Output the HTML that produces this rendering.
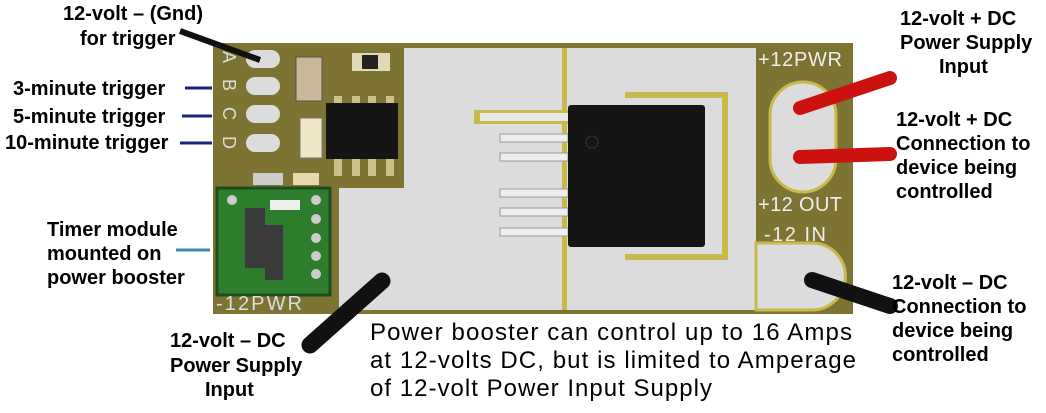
<!DOCTYPE html>
<html><head><meta charset="utf-8"><style>
html,body{margin:0;padding:0;background:#fff;width:1046px;height:413px;overflow:hidden}
svg{display:block}
text{font-family:"Liberation Sans",sans-serif;font-weight:bold;fill:#000}
</style></head><body>
<svg width="1046" height="413" viewBox="0 0 1046 413">
<rect x="213" y="43" width="640" height="271" fill="#7d7433"/>
<path d="M404 48 H756 V310 H339 V188 H404 Z" fill="#dcdcdc"/>
<path d="M756 243 H812 A33 33 0 0 1 812 310 H756 Z" fill="#dcdcdc" stroke="#c9b84a" stroke-width="3"/>
<rect x="770" y="82" width="66" height="110" rx="33" fill="#dcdcdc" stroke="#c9b84a" stroke-width="3"/>
<rect x="562" y="48" width="5" height="262" fill="#c9b84a"/>
<path d="M625 92 H728 V260 H625 V254 H722 V98 H625 Z" fill="#c9b84a"/>
<rect x="474" y="110" width="94" height="14" fill="#c9b84a"/>
<rect x="480" y="113" width="88" height="8" fill="#e8e8e8"/>
<g fill="#eeeeee" stroke="#999" stroke-width="1">
<rect x="500" y="134" width="68" height="8"/><rect x="500" y="153" width="68" height="8"/>
<rect x="500" y="189" width="68" height="8"/><rect x="500" y="208" width="68" height="8"/><rect x="500" y="228" width="68" height="8"/>
</g>
<rect x="568" y="105" width="137" height="142" rx="3" fill="#151515"/>
<circle cx="592" cy="142" r="6" fill="none" stroke="#333"/>
<g fill="#dcdcdc">
<rect x="246" y="50" width="34" height="18" rx="9"/><rect x="246" y="77" width="34" height="18" rx="9"/>
<rect x="246" y="105" width="34" height="18" rx="9"/><rect x="246" y="134" width="34" height="18" rx="9"/>
</g>
<g font-size="18">
<text x="222" y="62" transform="rotate(90 228 57)" style="fill:#ddd;font-weight:normal">A</text>
<text x="222" y="90" transform="rotate(90 228 85)" style="fill:#ddd;font-weight:normal">B</text>
<text x="222" y="118" transform="rotate(90 228 113)" style="fill:#ddd;font-weight:normal">C</text>
<text x="222" y="147" transform="rotate(90 228 142)" style="fill:#ddd;font-weight:normal">D</text>
</g>
<rect x="296" y="57" width="26" height="44" fill="#c8b89a" stroke="#555"/>
<rect x="300" y="118" width="22" height="40" fill="#f0e6c8" stroke="#777"/>
<rect x="352" y="53" width="38" height="18" fill="#e0d8b8"/><rect x="362" y="55" width="16" height="14" fill="#222"/>
<g fill="#cfc08a"><rect x="334" y="96" width="8" height="18"/><rect x="352" y="96" width="8" height="18"/><rect x="368" y="96" width="8" height="18"/><rect x="386" y="96" width="8" height="18"/>
<rect x="334" y="158" width="8" height="18"/><rect x="352" y="158" width="8" height="18"/><rect x="368" y="158" width="8" height="18"/><rect x="386" y="158" width="8" height="18"/></g>
<rect x="326" y="103" width="72" height="56" fill="#151515"/>
<rect x="253" y="173" width="30" height="12" fill="#ccc"/><rect x="293" y="173" width="26" height="12" fill="#e8d8b0"/>
<rect x="217" y="188" width="113" height="107" fill="#2d7d2d" stroke="#1d4d1d" stroke-width="3"/>
<rect x="245" y="208" width="20" height="60" fill="#3a3a3a"/><rect x="265" y="225" width="18" height="55" fill="#3a3a3a"/>
<rect x="270" y="200" width="30" height="10" fill="#eee"/>
<g fill="#ccc"><circle cx="316" cy="200" r="5"/><circle cx="316" cy="219" r="5"/><circle cx="316" cy="238" r="5"/><circle cx="316" cy="256" r="5"/><circle cx="316" cy="274" r="5"/><circle cx="232" cy="200" r="5"/></g>
<text x="216" y="310" font-size="20" textLength="86" style="fill:#ddd;font-weight:normal">-12PWR</text>
<text x="758" y="66" font-size="20" textLength="84" style="fill:#eee;font-weight:normal">+12PWR</text>
<text x="758" y="211" font-size="20" textLength="84" style="fill:#eee;font-weight:normal">+12 OUT</text>
<text x="764" y="241" font-size="20" textLength="62" style="fill:#eee;font-weight:normal">-12 IN</text>
<line x1="800" y1="108" x2="890" y2="78" stroke="#cc1111" stroke-width="14" stroke-linecap="round"/>
<line x1="800" y1="157" x2="890" y2="154" stroke="#cc1111" stroke-width="14" stroke-linecap="round"/>
<line x1="812" y1="280" x2="890" y2="306" stroke="#111" stroke-width="16" stroke-linecap="round"/>
<line x1="382" y1="281" x2="310" y2="345" stroke="#111" stroke-width="17" stroke-linecap="round"/>
<line x1="180" y1="31" x2="260" y2="60" stroke="#111" stroke-width="6"/>
<g stroke="#1a237e" stroke-width="3">
<line x1="185" y1="88" x2="212" y2="88"/><line x1="182" y1="116" x2="212" y2="116"/><line x1="180" y1="143" x2="212" y2="143"/>
</g>
<line x1="176" y1="250" x2="210" y2="250" stroke="#3a8aa8" stroke-width="3"/>
<g font-size="20">
<text x="63" y="20">12-volt – (Gnd)</text>
<text x="80" y="45">for trigger</text>
<text x="13" y="95">3-minute trigger</text>
<text x="13" y="123">5-minute trigger</text>
<text x="5" y="149">10-minute trigger</text>
<text x="47" y="236">Timer module</text>
<text x="47" y="260">mounted on</text>
<text x="47" y="284">power booster</text>
<text x="170" y="347">12-volt – DC</text>
<text x="170" y="372">Power Supply</text>
<text x="205" y="396">Input</text>
<text x="900" y="25">12-volt + DC</text>
<text x="900" y="49">Power Supply</text>
<text x="939" y="73">Input</text>
<text x="896" y="126">12-volt + DC</text>
<text x="896" y="150">Connection to</text>
<text x="896" y="174">device being</text>
<text x="896" y="198">controlled</text>
<text x="892" y="289">12-volt – DC</text>
<text x="892" y="313">Connection to</text>
<text x="892" y="337">device being</text>
<text x="892" y="361">controlled</text>
</g>
<g font-size="24">
<text x="370" y="340" textLength="482" style="font-weight:normal">Power booster can control up to 16 Amps</text>
<text x="370" y="368" textLength="486" style="font-weight:normal">at 12-volts DC, but is limited to Amperage</text>
<text x="370" y="396" textLength="342" style="font-weight:normal">of 12-volt Power Input Supply</text>
</g>
</svg>
</body></html>
